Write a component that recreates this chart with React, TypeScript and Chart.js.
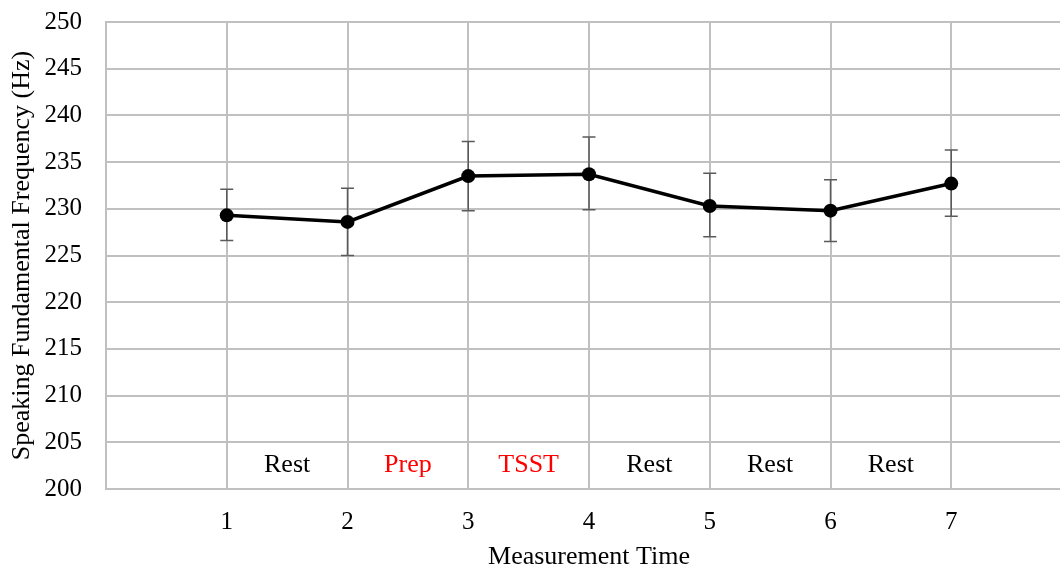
import React, { useEffect, useRef } from "react";
import { Chart, registerables } from "chart.js";

Chart.register(...registerables);

const timePoints = [1, 2, 3, 4, 5, 6, 7];
const meanF0 = [229.3, 228.6, 233.5, 233.7, 230.3, 229.8, 232.7];
const errUpper = [232.1, 232.2, 237.2, 237.7, 233.8, 233.1, 236.3];
const errLower = [226.6, 225.0, 229.8, 229.9, 227.0, 226.5, 229.2];
const phaseLabels = ["Rest", "Prep", "TSST", "Rest", "Rest", "Rest"];
const phaseColors = ["#000000", "#ff0000", "#ff0000", "#000000", "#000000", "#000000"];
const phaseLabelY = 202.5;
const xTitle = "Measurement Time";
const yTitle = "Speaking Fundamental Frequency (Hz)";

const FONT = "'Liberation Serif', 'Times New Roman', serif";

const errorBarPlugin = {
  id: "errorBars",
  beforeDatasetsDraw(chart: any) {
    const ctx = chart.ctx;
    const xs = chart.scales.x;
    const ys = chart.scales.y;
    ctx.save();
    ctx.strokeStyle = "#5a5a5a";
    ctx.lineWidth = 1.5;
    timePoints.forEach((t, i) => {
      const x = xs.getPixelForValue(t);
      const yT = ys.getPixelForValue(errUpper[i]);
      const yB = ys.getPixelForValue(errLower[i]);
      ctx.beginPath();
      ctx.moveTo(x, yT);
      ctx.lineTo(x, yB);
      ctx.moveTo(x - 6.5, yT);
      ctx.lineTo(x + 6.5, yT);
      ctx.moveTo(x - 6.5, yB);
      ctx.lineTo(x + 6.5, yB);
      ctx.stroke();
    });
    ctx.restore();
  },
  afterDraw(chart: any) {
    const ctx = chart.ctx;
    const xs = chart.scales.x;
    const ys = chart.scales.y;
    ctx.save();
    ctx.font = `26px ${FONT}`;
    ctx.textAlign = "center";
    ctx.textBaseline = "middle";
    phaseLabels.forEach((lab, i) => {
      ctx.fillStyle = phaseColors[i];
      ctx.fillText(lab, xs.getPixelForValue(timePoints[i] + 0.5), ys.getPixelForValue(phaseLabelY));
    });
    ctx.restore();
  },
};

export default function App() {
  const ref = useRef<HTMLCanvasElement>(null);
  useEffect(() => {
    if (!ref.current) return;
    const chart = new Chart(ref.current, {
      type: "line",
      data: {
        datasets: [
          {
            data: timePoints.map((t, i) => ({ x: t, y: meanF0[i] })),
            borderColor: "#000000",
            backgroundColor: "#000000",
            borderWidth: 3.5,
            pointRadius: 7,
            pointBackgroundColor: "#000000",
            pointBorderWidth: 0,
            tension: 0,
          },
        ],
      },
      options: {
        animation: false,
        responsive: false,
        layout: { padding: { left: 0, right: 8, top: 22, bottom: 0 } },
        plugins: { legend: { display: false }, tooltip: { enabled: false } },
        scales: {
          x: {
            type: "linear",
            min: 0,
            max: 8,
            afterFit(scale: any) {
              scale.height = 86;
              scale.paddingLeft = 0;
              scale.paddingRight = 0;
            },
            ticks: {
              stepSize: 1,
              padding: 18,
              color: "#000000",
              font: { family: FONT, size: 25 },
              callback: (v: any) => (v >= 1 && v <= 7 ? String(v) : ""),
            },
            grid: { color: "#c0c0c0", lineWidth: 2, drawTicks: false },
            border: { color: "#c0c0c0", width: 2 },
            title: {
              display: true,
              text: xTitle,
              color: "#000000",
              font: { family: FONT, size: 26 },
              padding: { top: 0, bottom: 2 },
            },
          },
          y: {
            min: 200,
            max: 250,
            afterFit(scale: any) {
              scale.width = 106;
              scale.paddingTop = 0;
              scale.paddingBottom = 0;
            },
            ticks: {
              stepSize: 5,
              padding: 24,
              color: "#000000",
              font: { family: FONT, size: 25 },
            },
            grid: { color: "#c0c0c0", lineWidth: 2, drawTicks: false },
            border: { color: "#c0c0c0", width: 2 },
            title: {
              display: true,
              text: yTitle,
              color: "#000000",
              font: { family: FONT, size: 26 },
              padding: { top: 7, bottom: 0 },
            },
          },
        },
      },
      plugins: [errorBarPlugin],
    });
    return () => chart.destroy();
  }, []);
  return (
    <div
      style={{
        position: "fixed",
        left: 0,
        top: 0,
        width: 1060,
        height: 567,
        overflow: "hidden",
        background: "#ffffff",
      }}
    >
      <canvas ref={ref} width={1080} height={575} style={{ display: "block" }} />
    </div>
  );
}
